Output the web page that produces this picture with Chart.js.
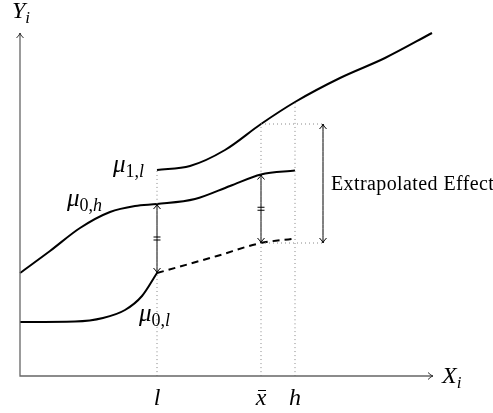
<!DOCTYPE html>
<html>
<head>
<meta charset="utf-8">
<script src="https://cdn.jsdelivr.net/npm/chart.js@4/dist/chart.umd.min.js"></script>
<style>
  html, body { margin: 0; padding: 0; background: #fff; }
  #chart { display: block; }
</style>
</head>
<body>
<canvas id="chart" width="493" height="413"></canvas>
<script>
// axis extent (arbitrary units)
const xMax = 413;
const yMax = 343;

// marked positions on the X axis
const xTicks = [137, 241, 275];
const xTickLabels = ['l', 'x', 'h'];   // middle one gets a bar (x̄)

// curves [x, y]
const mu1l = [[137,206],[170,210],[205,226],[241,252],[275,274],[320,298],[365,318],[412,343]];
const mu0h = [[0,103],[30,125],[60,148],[90,164],[115,170],[137,172],[175,177],[210,190],[241,201.5],[275,205.5]];
const mu0l = [[0,54],[55,54.5],[83,58],[105,66],[122,80],[137,103]];
const mu0lExtrap = [[137,103],[197,120],[241,133],[272,137]];

// dotted guide lines
const guides = [
  [[137,0],[137,206]],
  [[241,0],[241,252]],
  [[275,0],[275,274]],
  [[241,252],[303,252]],
  [[241,133],[303,133]]
];

// double arrows: x, low end, high end, with "=" marks or not
const arrowX = [137, 241, 303];
const arrowLow = [103, 133, 133];
const arrowHigh = [172, 201.5, 252];
const arrowMarks = [true, true, false];

const serif = '"Liberation Serif", "DejaVu Serif", serif';

function pts(a) { return a.map(p => ({x: p[0], y: p[1]})); }

const datasets = [];
guides.forEach(g => datasets.push({
  data: pts(g), borderColor: '#888', borderWidth: 1, borderDash: [1, 3]
}));
arrowX.forEach((ax, i) => datasets.push({
  data: [{x: ax, y: arrowLow[i]}, {x: ax, y: arrowHigh[i]}],
  borderColor: '#000', borderWidth: 1, arrow: true, marks: arrowMarks[i]
}));
datasets.push({data: pts(mu0lExtrap), borderColor: '#000', borderWidth: 2, borderDash: [7, 5]});
datasets.push({data: pts(mu0l), borderColor: '#000', borderWidth: 2});
datasets.push({data: pts(mu0h), borderColor: '#000', borderWidth: 2});
datasets.push({data: pts(mu1l), borderColor: '#000', borderWidth: 2});
datasets.forEach(d => Object.assign(d, {
  showLine: true, pointRadius: 0, fill: false, clip: false,
  cubicInterpolationMode: 'monotone'
}));

function head(ctx, x, y, ang) {
  const len = 5, w = 3.5;
  const c = Math.cos(ang), s = Math.sin(ang);
  ctx.beginPath();
  ctx.moveTo(x - len * c - w * s, y - len * s + w * c);
  ctx.quadraticCurveTo(x - 1.5 * c, y - 1.5 * s, x, y);
  ctx.quadraticCurveTo(x - 1.5 * c, y - 1.5 * s, x - len * c + w * s, y - len * s - w * c);
  ctx.stroke();
}

// base letter italic, subscript parts [text, italic]
function mathLabel(ctx, x, y, base, sub, size) {
  ctx.textAlign = 'left';
  ctx.textBaseline = 'alphabetic';
  ctx.font = 'italic ' + size + 'px ' + serif;
  ctx.fillText(base, x, y);
  let cx = x + ctx.measureText(base).width;
  const ss = Math.round(size * 0.7);
  sub.forEach(p => {
    ctx.font = (p[1] ? 'italic ' : '') + ss + 'px ' + serif;
    ctx.fillText(p[0], cx, y + size * 0.2);
    cx += ctx.measureText(p[0]).width;
  });
}

const sketch = {
  id: 'sketch',
  afterDatasetsDraw(chart) {
    const ctx = chart.ctx;
    const sx = chart.scales.x, sy = chart.scales.y;
    const px = v => sx.getPixelForValue(v), py = v => sy.getPixelForValue(v);
    ctx.save();

    // axes
    ctx.strokeStyle = '#666';
    ctx.lineWidth = 1.3;
    ctx.beginPath();
    ctx.moveTo(px(0), py(yMax)); ctx.lineTo(px(0), py(0)); ctx.lineTo(px(xMax), py(0));
    ctx.stroke();
    ctx.lineWidth = 1;
    ctx.strokeStyle = '#333';
    head(ctx, px(xMax), py(0), 0);
    head(ctx, px(0), py(yMax), -Math.PI / 2);

    // arrow heads and "=" marks
    ctx.strokeStyle = '#000';
    chart.data.datasets.forEach(d => {
      if (!d.arrow) return;
      const x = px(d.data[0].x), y0 = py(d.data[0].y), y1 = py(d.data[1].y);
      head(ctx, x, y0, Math.PI / 2);
      head(ctx, x, y1, -Math.PI / 2);
      if (d.marks) {
        const m = (y0 + y1) / 2;
        ctx.beginPath();
        ctx.moveTo(x - 3.5, m - 1.5); ctx.lineTo(x + 3.5, m - 1.5);
        ctx.moveTo(x - 3.5, m + 1.5); ctx.lineTo(x + 3.5, m + 1.5);
        ctx.stroke();
      }
    });

    ctx.fillStyle = '#000';
    // tick labels
    ctx.font = 'italic 24px ' + serif;
    ctx.textAlign = 'center';
    ctx.textBaseline = 'alphabetic';
    xTicks.forEach((t, i) => {
      const x = px(t), y = py(0) + 29;
      ctx.fillText(xTickLabels[i], x, y);
      if (i === 1) {
        ctx.lineWidth = 1;
        ctx.beginPath();
        ctx.moveTo(x - 3, y - 14.5); ctx.lineTo(x + 5, y - 14.5);
        ctx.stroke();
      }
    });

    // axis titles and curve labels
    mathLabel(ctx, px(0) - 8, py(yMax) - 15, 'Y', [['i', true]], 24);
    mathLabel(ctx, px(xMax) + 9, py(0) + 7, 'X', [['i', true]], 24);
    mathLabel(ctx, 113, 172, 'μ', [['1,', false], ['l', true]], 25);
    mathLabel(ctx, 67, 206, 'μ', [['0,', false], ['h', true]], 25);
    mathLabel(ctx, 139, 321, 'μ', [['0,', false], ['l', true]], 25);

    ctx.font = '20px ' + serif;
    ctx.letterSpacing = '0.4px';
    ctx.textAlign = 'left';
    ctx.fillText('Extrapolated Effect', px(arrowX[2]) + 8, 190);
    ctx.restore();
  }
};

new Chart(document.getElementById('chart'), {
  type: 'scatter',
  data: { datasets: datasets },
  options: {
    responsive: false,
    animation: false,
    devicePixelRatio: 1,
    layout: { padding: { left: 20, right: 60, top: 33, bottom: 37 } },
    scales: {
      x: { type: 'linear', min: 0, max: xMax, display: false },
      y: { type: 'linear', min: 0, max: yMax, display: false }
    },
    plugins: { legend: { display: false }, tooltip: { enabled: false } }
  },
  plugins: [sketch]
});
</script>
</body>
</html>
